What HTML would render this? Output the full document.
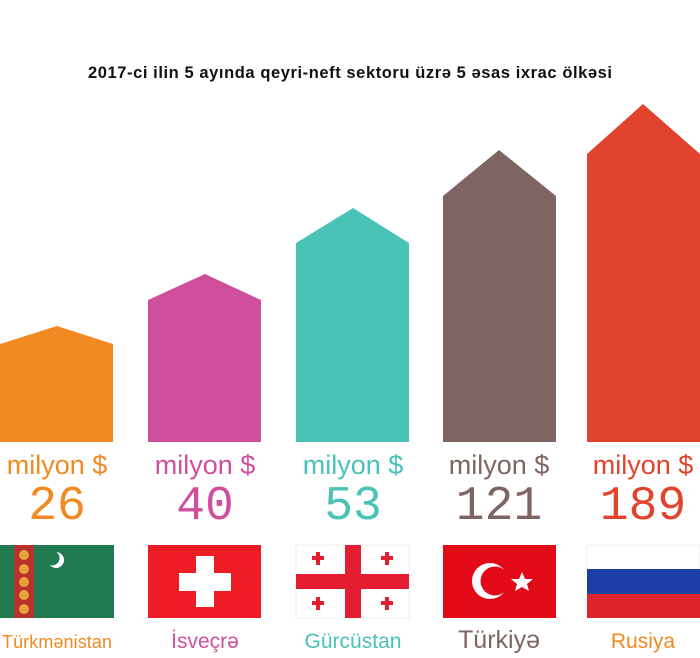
<!DOCTYPE html>
<html><head><meta charset="utf-8"><style>
body{margin:0;background:#fff;}
svg{display:block}
</style></head><body>
<svg width="700" height="658" xmlns="http://www.w3.org/2000/svg" font-family="Liberation Sans, DejaVu Sans, sans-serif">
<rect width="700" height="658" fill="#fff"/>
<text x="350" y="78" text-anchor="middle" font-size="16.5" font-weight="bold" fill="#111" textLength="524">2017-ci ilin 5 ayında qeyri-neft sektoru üzrə 5 əsas ixrac ölkəsi</text>
<polygon points="0,442 0,344 57,326 113,344 113,442" fill="#f18a22"/>
<polygon points="148,442 148,300 205,274 261,300 261,442" fill="#cf4f9c"/>
<polygon points="296,442 296,243 353,208 409,243 409,442" fill="#4ac3b7"/>
<polygon points="443,442 443,196 499,150 556,196 556,442" fill="#7e6462"/>
<polygon points="587,442 587,154 643,104 700,154 700,442" fill="#e1432d"/>
<g font-size="27" text-anchor="middle">
<text x="57" y="474" fill="#f18a22">milyon $</text>
<text x="205" y="474" fill="#cf4f9c">milyon $</text>
<text x="353" y="474" fill="#4ac3b7">milyon $</text>
<text x="499" y="474" fill="#7e6462">milyon $</text>
<text x="643" y="474" fill="#e1432d">milyon $</text>
</g>
<g font-size="48" text-anchor="middle" font-family="Liberation Mono, monospace">
<text x="57" y="519" fill="#f18a22">26</text>
<text x="205" y="519" fill="#cf4f9c">40</text>
<text x="353" y="519" fill="#4ac3b7">53</text>
<text x="499" y="519" fill="#7e6462">121</text>
<text x="643" y="519" fill="#e1432d">189</text>
</g>
<!-- Turkmenistan -->
<rect x="0" y="545" width="114" height="73" fill="#1f7a4f"/>
<rect x="14" y="545" width="20" height="73" fill="#b8322b"/>
<g fill="#e8a33a"><circle cx="24" cy="555" r="5"/><circle cx="24" cy="569" r="5"/><circle cx="24" cy="582" r="5"/><circle cx="24" cy="595" r="5"/><circle cx="24" cy="609" r="5"/></g>
<circle cx="56" cy="560" r="8" fill="#fff"/><circle cx="52" cy="558" r="7.5" fill="#1f7a4f"/>
<!-- Switzerland -->
<rect x="148" y="545" width="113" height="73" fill="#ee1c24"/>
<rect x="196" y="556" width="18" height="51" fill="#fff"/>
<rect x="179" y="573" width="52" height="18" fill="#fff"/>
<!-- Georgia -->
<rect x="296" y="545" width="113" height="73" fill="#fff" stroke="#eee"/>
<rect x="345" y="545" width="16" height="73" fill="#e41e30"/>
<rect x="296" y="574" width="113" height="15" fill="#e41e30"/>
<g fill="#e41e30"><rect x="316" y="552" width="4" height="13"/><rect x="312" y="556" width="12" height="4"/>
<rect x="385" y="552" width="4" height="13"/><rect x="381" y="556" width="12" height="4"/>
<rect x="316" y="597" width="4" height="13"/><rect x="312" y="601" width="12" height="4"/>
<rect x="385" y="597" width="4" height="13"/><rect x="381" y="601" width="12" height="4"/></g>
<!-- Turkey -->
<rect x="443" y="545" width="113" height="73" fill="#e30a17"/>
<circle cx="490" cy="581" r="18" fill="#fff"/><circle cx="495" cy="581" r="14.5" fill="#e30a17"/>
<polygon points="522,572 525,579 533,579 527,584 529,591 522,587 515,591 517,584 511,579 519,579" fill="#fff"/>
<!-- Russia -->
<rect x="587" y="545" width="113" height="24" fill="#fff" stroke="#eee"/>
<rect x="587" y="569" width="113" height="25" fill="#1c3fa8"/>
<rect x="587" y="594" width="113" height="24" fill="#e0242b"/>
<g font-size="19" text-anchor="middle">
<text x="57" y="648" fill="#f18a22" font-size="18" textLength="110">Türkmənistan</text>
<text x="205" y="648" fill="#cf4f9c" font-size="21">İsveçrə</text>
<text x="353" y="648" fill="#4ac3b7" font-size="21">Gürcüstan</text>
<text x="499" y="648" fill="#7e6462" font-size="25">Türkiyə</text>
<text x="643" y="648" fill="#f18a22" font-size="21">Rusiya</text>
</g>
</svg>
</body></html>
